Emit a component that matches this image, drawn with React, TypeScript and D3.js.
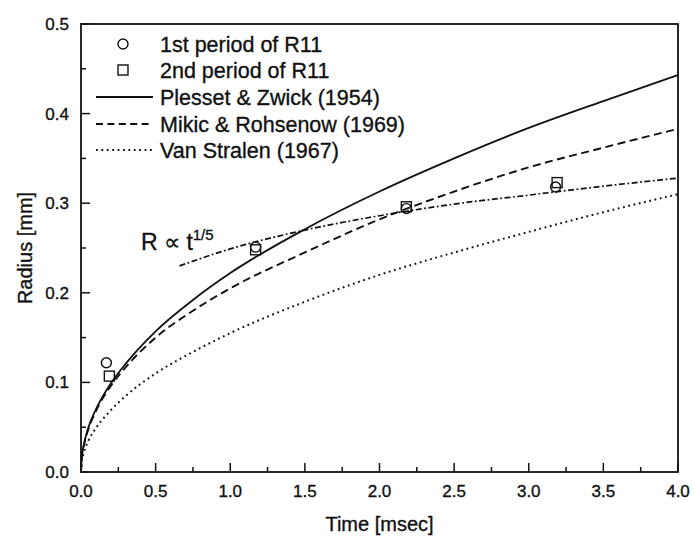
import React from 'react';
import * as d3 from 'd3';

// Theoretical curves
const timeGrid = [0, 0.005, 0.02, 0.05, 0.1, 0.2, 0.3, 0.5, 0.75, 1.0, 1.5, 2.0, 2.5, 3.0, 3.5, 4.0];
const plessetZwick = [0, 0.016, 0.031, 0.05, 0.07, 0.099, 0.121, 0.157, 0.192, 0.222, 0.271, 0.313, 0.35, 0.384, 0.414, 0.443];
const mikicRohsenow = [0, 0.016, 0.03, 0.048, 0.068, 0.096, 0.117, 0.15, 0.18, 0.205, 0.245, 0.282, 0.313, 0.34, 0.362, 0.383];
const vanStralen = [0, 0.011, 0.022, 0.035, 0.049, 0.069, 0.085, 0.11, 0.134, 0.155, 0.19, 0.22, 0.245, 0.268, 0.29, 0.31];

// R ∝ t^(1/5) fit
const powerTime = [0.66, 1.0, 1.5, 2.0, 2.5, 3.0, 3.5, 4.0];
const powerFit = [0.23, 0.249, 0.27, 0.286, 0.299, 0.309, 0.319, 0.328];

// Measurements
const period1Time = [0.17, 1.17, 2.18, 3.18];
const period1Radius = [0.122, 0.251, 0.294, 0.318];
const period2Time = [0.19, 1.17, 2.18, 3.19];
const period2Radius = [0.107, 0.248, 0.296, 0.323];

const xMajorTicks = [0, 0.5, 1.0, 1.5, 2.0, 2.5, 3.0, 3.5, 4.0];
const xMinorTicks = [0.25, 0.75, 1.25, 1.75, 2.25, 2.75, 3.25, 3.75];
const yMajorTicks = [0, 0.1, 0.2, 0.3, 0.4, 0.5];
const yMinorTicks = [0.05, 0.15, 0.25, 0.35, 0.45];

const legendLabels = [
  '1st period of R11',
  '2nd period of R11',
  'Plesset & Zwick (1954)',
  'Mikic & Rohsenow (1969)',
  'Van Stralen (1967)',
];

const W = 695;
const H = 536;
const left = 81;
const right = 678;
const top = 24;
const bottom = 472;
const FONT = '"Liberation Sans", Arial, Helvetica, sans-serif';
const INK = '#111';

export default function App() {
  const x = d3.scaleLinear().domain([0, 4]).range([left, right]);
  const y = d3.scaleLinear().domain([0, 0.5]).range([bottom, top]);

  const line = d3
    .line<[number, number]>()
    .x((d) => x(d[0]))
    .y((d) => y(d[1]))
    .curve(d3.curveMonotoneX);

  const zip = (a: number[], b: number[]) => a.map((v, i) => [v, b[i]] as [number, number]);

  const curves = [
    { data: zip(timeGrid, plessetZwick), dash: undefined as string | undefined, width: 1.8 },
    { data: zip(timeGrid, mikicRohsenow), dash: '8,4.5', width: 1.9 },
    { data: zip(timeGrid, vanStralen), dash: '1.8,3.6', width: 2 },
  ];

  const legendRowY = [44, 70, 97, 124, 150];
  const legendSymX = 123;
  const textStroke = { stroke: INK, strokeWidth: 0.35 };

  return (
    <svg
      width={W}
      height={H}
      style={{ position: 'absolute', left: 0, top: 0, background: '#fff' }}
      fontFamily={FONT}
    >
      <rect x={0} y={0} width={W} height={H} fill="#fff" />
      {/* curves */}
      {curves.map((c, i) => (
        <path
          key={i}
          d={line(c.data) || ''}
          fill="none"
          stroke={INK}
          strokeWidth={c.width}
          strokeDasharray={c.dash}
        />
      ))}
      <path
        d={line(zip(powerTime, powerFit)) || ''}
        fill="none"
        stroke={INK}
        strokeWidth={1.7}
        strokeDasharray="6,2.5,1.8,2.5"
      />
      {/* markers */}
      {period1Time.map((t, i) => (
        <circle key={'c' + i} cx={x(t)} cy={y(period1Radius[i])} r={5} fill="none" stroke={INK} strokeWidth={1.4} />
      ))}
      {period2Time.map((t, i) => (
        <rect
          key={'s' + i}
          x={x(t) - 5}
          y={y(period2Radius[i]) - 5}
          width={10}
          height={10}
          fill="none"
          stroke={INK}
          strokeWidth={1.4}
        />
      ))}
      {/* frame */}
      <rect x={left} y={top} width={right - left} height={bottom - top} fill="none" stroke={INK} strokeWidth={1.8} />
      {/* ticks */}
      {xMajorTicks.map((t) => (
        <line key={'xM' + t} x1={x(t)} x2={x(t)} y1={bottom} y2={bottom - 9} stroke={INK} strokeWidth={1.5} />
      ))}
      {xMinorTicks.map((t) => (
        <line key={'xm' + t} x1={x(t)} x2={x(t)} y1={bottom} y2={bottom - 5} stroke={INK} strokeWidth={1.5} />
      ))}
      {yMajorTicks.map((t) => (
        <line key={'yM' + t} x1={left} x2={left + 9} y1={y(t)} y2={y(t)} stroke={INK} strokeWidth={1.5} />
      ))}
      {yMinorTicks.map((t) => (
        <line key={'ym' + t} x1={left} x2={left + 5} y1={y(t)} y2={y(t)} stroke={INK} strokeWidth={1.5} />
      ))}
      {/* tick labels */}
      {xMajorTicks.map((t) => (
        <text key={'xl' + t} x={x(t)} y={497} textAnchor="middle" fontSize={17} fill={INK} {...textStroke}>
          {t.toFixed(1)}
        </text>
      ))}
      {yMajorTicks.map((t) => (
        <text key={'yl' + t} x={69} y={y(t) + 6} textAnchor="end" fontSize={17} fill={INK} {...textStroke}>
          {t.toFixed(1)}
        </text>
      ))}
      {/* axis titles */}
      <text x={(left + right) / 2} y={531} textAnchor="middle" fontSize={20} fill={INK} {...textStroke}>
        Time [msec]
      </text>
      <text
        transform={`translate(32, ${(top + bottom) / 2}) rotate(-90)`}
        textAnchor="middle"
        fontSize={20}
        fill={INK}
        {...textStroke}
      >
        Radius [mm]
      </text>
      {/* legend */}
      <circle cx={legendSymX} cy={legendRowY[0]} r={5} fill="none" stroke={INK} strokeWidth={1.4} />
      <rect x={legendSymX - 5} y={legendRowY[1] - 5} width={10} height={10} fill="none" stroke={INK} strokeWidth={1.4} />
      <line x1={96} x2={153} y1={legendRowY[2]} y2={legendRowY[2]} stroke={INK} strokeWidth={1.8} />
      <line x1={96} x2={153} y1={legendRowY[3]} y2={legendRowY[3]} stroke={INK} strokeWidth={1.9} strokeDasharray="7,4.4" />
      <line x1={96} x2={153} y1={legendRowY[4]} y2={legendRowY[4]} stroke={INK} strokeWidth={2} strokeDasharray="1.8,3.6" />
      {legendLabels.map((l, i) => (
        <text key={l} x={160} y={legendRowY[i] + 8} fontSize={21.5} fill={INK} {...textStroke}>
          {l}
        </text>
      ))}
      {/* annotation */}
      <text x={141} y={250} fontSize={23} fill={INK} {...textStroke}>
        R ∝ t
        <tspan dy={-10} fontSize={15}>
          1/5
        </tspan>
      </text>
    </svg>
  );
}
